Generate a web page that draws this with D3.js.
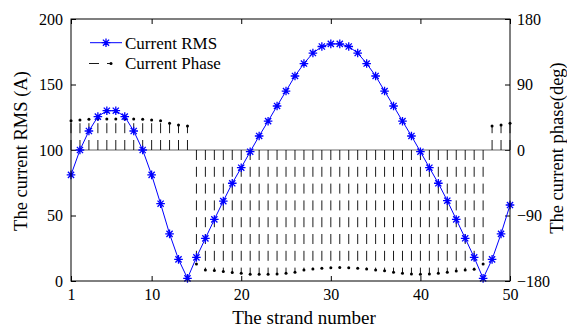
<!DOCTYPE html>
<html>
<head>
<meta charset="utf-8">
<script src="https://cdn.jsdelivr.net/npm/d3@7"></script>
<style>
  html, body { margin: 0; padding: 0; background: #fff; }
  svg { display: block; }
  text { font-family: "Liberation Serif", "Times New Roman", serif; fill: #000; }
</style>
</head>
<body>
<svg id="chart" width="567" height="327"></svg>
<script>
// ---- data ----
const strands = d3.range(1, 51);
const rmsValues = [81, 100, 114.5, 125.5, 130, 130, 125.5, 114.5, 100, 81,
  59, 36, 16.5, 2, 18, 32.5, 47, 61, 74.6, 86.5,
  98.7, 110.7, 122, 133.6, 145, 156.5, 166, 174, 179, 181,
  181, 179, 174, 166, 156.5, 145, 133.6, 122, 110.7, 98.7,
  86.5, 74.6, 61.3, 47, 32.6, 18, 2, 16.5, 36, 58];
const phaseValues = [40.3, 41.2, 42.1, 42.6, 42.6, 42.6, 42.6, 42.6, 42.1, 41.2,
  40.3, 36.6, 34.3, 33, -156.6, -164.8, -165.7, -167, -168.3, -169.4,
  -170.8, -170.8, -170.8, -170.3, -169.4, -168, -164.8, -163.5, -162.5, -161.7,
  -161.5, -161.7, -162.5, -163.5, -164.8, -166, -168, -169.4, -170.3, -170.8,
  -170.3, -169.4, -168, -166.2, -164.8, -163.8, -156.6, 33, 34.3, 36.6];
const xTicks = [1, 10, 20, 30, 40, 50];
const yLeftTicks = [0, 50, 100, 150, 200];
const yRightTicks = [-180, -90, 0, 90, 180];
const seriesNames = ["Current RMS", "Current Phase"];
const labels = { x: "The strand number", yLeft: "The current RMS (A)", yRight: "The current phase(deg)" };

// ---- layout ----
const L = 71, R = 510, T = 19, B = 281;
const svg = d3.select("#chart");
const x = d3.scaleLinear().domain([1, 50]).range([L, R]);
const yL = d3.scaleLinear().domain([0, 200]).range([B, T]);
const yR = d3.scaleLinear().domain([-180, 180]).range([B, T]);

const tickFont = "16px";

// axes
const gx = svg.append("g").attr("transform", `translate(0,${B})`)
  .call(d3.axisBottom(x).tickValues(xTicks).tickSizeInner(-5).tickSizeOuter(0).tickPadding(8));
const gxt = svg.append("g").attr("transform", `translate(0,${T})`)
  .call(d3.axisTop(x).tickValues(xTicks).tickSizeInner(-5).tickSizeOuter(0).tickFormat(""));
const gyl = svg.append("g").attr("transform", `translate(${L},0)`)
  .call(d3.axisLeft(yL).tickValues(yLeftTicks).tickSizeInner(-5).tickSizeOuter(0).tickPadding(8));
const gyr = svg.append("g").attr("transform", `translate(${R},0)`)
  .call(d3.axisRight(yR).tickValues(yRightTicks).tickSizeInner(-5).tickSizeOuter(0).tickPadding(7));
[gx, gxt, gyl, gyr].forEach(g => {
  g.select(".domain").remove();
  g.selectAll("line").attr("stroke", "#000").attr("stroke-width", 1);
  g.selectAll("text").style("font-size", tickFont).style("font-family", "Liberation Serif, serif").attr("fill", "#000");
});

// stem plot (phase)
const stems = svg.append("g");
stems.append("line")
  .attr("x1", L).attr("x2", R).attr("y1", yR(0)).attr("y2", yR(0))
  .attr("stroke", "#666").attr("stroke-width", 1);
stems.selectAll("line.stem").data(strands).join("line").attr("class", "stem")
  .attr("x1", d => x(d)).attr("x2", d => x(d))
  .attr("y1", yR(0)).attr("y2", (d, i) => yR(phaseValues[i]))
  .attr("stroke", "#000").attr("stroke-width", 0.9).attr("stroke-dasharray", "10,6.8");
stems.selectAll("circle").data(strands).join("circle")
  .attr("cx", d => x(d)).attr("cy", (d, i) => yR(phaseValues[i]))
  .attr("r", 1.5).attr("fill", "#000");

// RMS line
const blue = "#0000ff";
svg.append("path").datum(strands)
  .attr("fill", "none").attr("stroke", blue).attr("stroke-width", 1)
  .attr("d", d3.line().x(d => x(d)).y((d, i) => yL(rmsValues[i])));
function star(g, cx, cy, s) {
  const a = s * 0.72;
  const p = `M${cx - s},${cy}L${cx + s},${cy}M${cx},${cy - s}L${cx},${cy + s}` +
    `M${cx - a},${cy - a}L${cx + a},${cy + a}M${cx - a},${cy + a}L${cx + a},${cy - a}`;
  g.append("path").attr("d", p).attr("stroke", blue).attr("stroke-width", 1.3).attr("fill", "none");
}
const stars = svg.append("g");
strands.forEach((d, i) => star(stars, x(d), yL(rmsValues[i]), 4.3));

// box
svg.append("rect").attr("x", L).attr("y", T).attr("width", R - L).attr("height", B - T)
  .attr("fill", "none").attr("stroke", "#000").attr("stroke-width", 1);

// legend
const lg = svg.append("g");
lg.append("line").attr("x1", 90).attr("x2", 122).attr("y1", 42.7).attr("y2", 42.7)
  .attr("stroke", blue).attr("stroke-width", 1);
star(lg, 106, 42.7, 4.3);
lg.append("line").attr("x1", 89).attr("x2", 112).attr("y1", 63.5).attr("y2", 63.5)
  .attr("stroke", "#000").attr("stroke-width", 0.9).attr("stroke-dasharray", "10,8");
lg.append("circle").attr("cx", 111).attr("cy", 63.5).attr("r", 1.5).attr("fill", "#000");
lg.selectAll("text").data(seriesNames).join("text")
  .attr("x", 125).attr("y", (d, i) => 42.7 + i * 20.8).attr("dy", "0.35em")
  .style("font-size", "17px").text(d => d);

// axis labels
svg.append("text").attr("x", 304).attr("y", 324).attr("text-anchor", "middle")
  .style("font-size", "19px").text(labels.x);
svg.append("text").attr("transform", "translate(27,151) rotate(-90)").attr("text-anchor", "middle")
  .style("font-size", "18.5px").text(labels.yLeft);
svg.append("text").attr("transform", "translate(563,148) rotate(-90)").attr("text-anchor", "middle")
  .style("font-size", "18.5px").text(labels.yRight);
</script>
</body>
</html>
